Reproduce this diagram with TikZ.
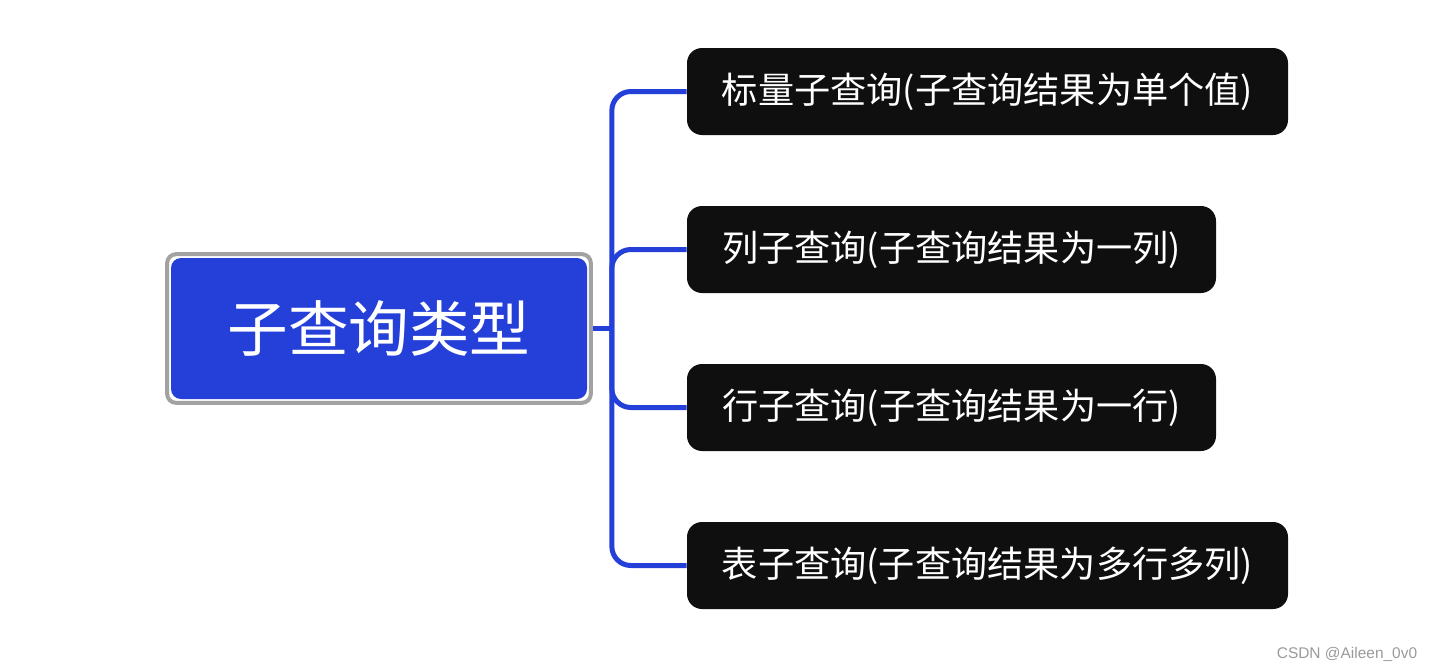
\documentclass[tikz,border=0pt]{standalone}
\usepackage{fontspec}
\newfontfamily\cjk{Noto Sans CJK SC}
\newfontfamily\markfont{Liberation Sans}
\usepackage{tikz}
\usetikzlibrary{positioning,fit}
\definecolor{topicblue}{HTML}{2440D9}
\definecolor{framegray}{HTML}{A2A2A2}
\definecolor{leafblack}{HTML}{0F0F0F}
\definecolor{markgray}{HTML}{9A9A9A}
\tikzset{
  topicbox/.style={fill=topicblue, rounded corners=0.2cm, text=white, minimum width=8.32cm, minimum height=2.82cm, font={\cjk\fontsize{34.5pt}{40pt}\selectfont}},
  topicframe/.style={draw=framegray, line width=0.08cm, rounded corners=0.18cm, inner sep=0.07cm},
  leafbox/.style={fill=leafblack, rounded corners=0.3cm, text=white, minimum height=1.74cm, align=center, font={\cjk\fontsize{20.6pt}{24pt}\selectfont}},
  branch/.style={draw=topicblue, line width=0.1cm, rounded corners=0.38cm}
}
\begin{document}
\begin{tikzpicture}
  \useasboundingbox (0,0) rectangle (28.6,-13.42);

  \node[topicbox] (root) at (7.58,-6.57) {子查询类型};
  \node[topicframe, fit=(root)] (rootframe) {};

  \node[leafbox, minimum width=12.02cm] (scalar) at (19.75,-1.83) {标量子查询(子查询结果为单个值)};
  \node[leafbox, minimum width=10.58cm] (column) at (19.03,-4.99) {列子查询(子查询结果为一列)};
  \node[leafbox, minimum width=10.58cm] (row) at (19.03,-8.15) {行子查询(子查询结果为一行)};
  \node[leafbox, minimum width=12.02cm] (table) at (19.75,-11.31) {表子查询(子查询结果为多行多列)};

  \coordinate[right=0.38cm of rootframe.east] (hub);

  \draw[branch, rounded corners=0] (rootframe.east) -- (hub);
  \draw[branch] (hub) |- (scalar.west);
  \draw[branch] (hub) |- (column.west);
  \draw[branch] (hub) |- (row.west);
  \draw[branch] (hub) |- (table.west);

  \node[text=markgray, font={\markfont\fontsize{8.8pt}{10pt}\selectfont}] (mark) at (26.94,-13.08) {CSDN @Aileen\_0v0};
\end{tikzpicture}
\end{document}
